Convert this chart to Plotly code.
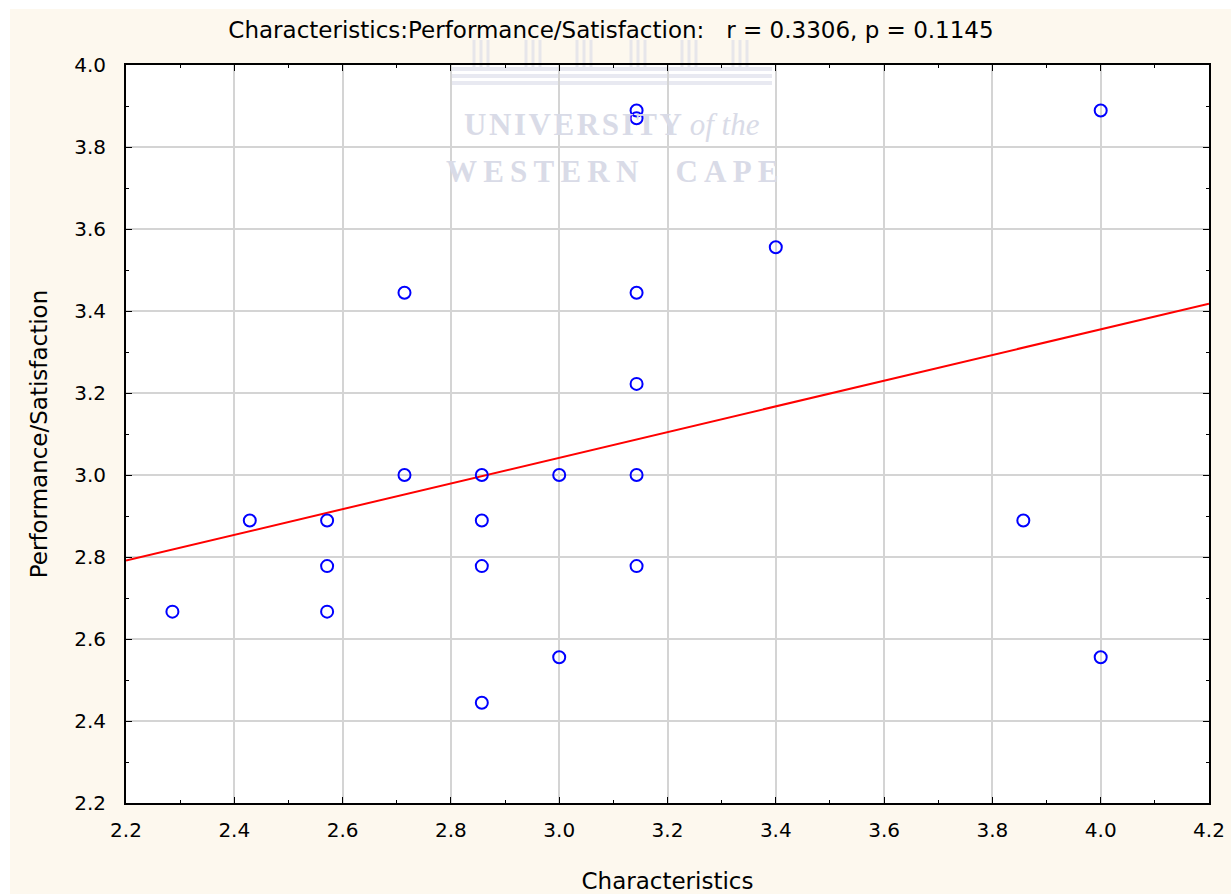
import numpy as np
import plotly.graph_objects as go

# Data
characteristics = [2.2857, 2.4286, 2.5714, 2.5714, 2.5714, 2.7143, 2.7143,
                   2.8571, 2.8571, 2.8571, 2.8571, 3.0, 3.0,
                   3.1429, 3.1429, 3.1429, 3.1429, 3.1429, 3.1429,
                   3.4, 3.8571, 4.0, 4.0]
performance = [2.6667, 2.8889, 2.8889, 2.7778, 2.6667, 3.4444, 3.0,
               3.0, 2.8889, 2.7778, 2.4444, 3.0, 2.5556,
               3.8889, 3.8700, 3.4444, 3.2222, 3.0, 2.7778,
               3.5556, 2.8889, 3.8889, 2.5556]

x_range = [2.2, 4.2]
y_range = [2.2, 4.0]
title_text = "Characteristics:Performance/Satisfaction:   r = 0.3306, p = 0.1145"

slope, intercept = np.polyfit(characteristics, performance, 1)
fit_x = np.array(x_range)
fit_y = intercept + slope * fit_x

W, H = 1231, 894
L, R, T, B = 126, 1209, 65, 803   # plot area in page pixels
cream = "#fdf8ee"
wm = "#d9dbe7"
FONT = "DejaVu Sans, Liberation Sans, Arial, sans-serif"
SERIF = "Liberation Serif, DejaVu Serif, serif"

def px(x):
    return (x - L) / (R - L)

def py(y):
    return (B - y) / (B - T)

fig = go.Figure()
fig.add_trace(go.Scatter(x=fit_x, y=fit_y, mode="lines",
                         line=dict(color="#ff0000", width=2), showlegend=False))
fig.add_trace(go.Scatter(x=characteristics, y=performance, mode="markers",
                         marker=dict(symbol="circle-open", size=12, color="#0000ff",
                                     line=dict(color="#0000ff", width=2)),
                         showlegend=False))

shapes = []
# white strips on left/top of the page
shapes.append(dict(type="rect", xref="paper", yref="paper", x0=px(0), x1=px(10), y0=py(H), y1=py(0),
                   fillcolor="white", line=dict(width=0), layer="below"))
shapes.append(dict(type="rect", xref="paper", yref="paper", x0=px(0), x1=px(W), y0=py(9), y1=py(0),
                   fillcolor="white", line=dict(width=0), layer="below"))
# watermark temple base
for (y0, y1) in [(67, 71), (74, 78), (81, 85)]:
    shapes.append(dict(type="rect", xref="paper", yref="paper", x0=px(452), x1=px(772),
                       y0=py(y1), y1=py(y0), fillcolor=wm, line=dict(width=0), layer="below", opacity=0.6))
for cx in [481, 533, 584, 638, 689, 740]:
    for dx in [-7, 0, 7]:
        shapes.append(dict(type="rect", xref="paper", yref="paper", x0=px(cx + dx - 1.5), x1=px(cx + dx + 1.5),
                           y0=py(67), y1=py(40), fillcolor=wm, line=dict(width=0), layer="below", opacity=0.6))

hs = "\u200a"
annotations = [
    dict(text="<b>" + hs.join("UNIVERSITY") + "</b> <i>of the</i>", xref="paper", yref="paper",
         x=px(612), y=py(124), showarrow=False,
         font=dict(family=SERIF, size=31, color=wm), xanchor="center", yanchor="middle"),
    dict(text="<b>" + "\u2009".join("WESTERN") + "\u2003\u2009" + "\u2009".join("CAPE") + "</b>",
         xref="paper", yref="paper", x=px(612), y=py(171), showarrow=False,
         font=dict(family=SERIF, size=31, color=wm), xanchor="center", yanchor="middle"),
]

axis_common = dict(showline=True, linecolor="black", linewidth=2, mirror="allticks",
                   ticks="inside", ticklen=6, tickwidth=1, tickcolor="black",
                   showgrid=True, gridcolor="#d4d4d4", gridwidth=2, zeroline=False,
                   automargin=False,
                   tickfont=dict(family=FONT, size=20, color="black"),
                   minor=dict(ticks="inside", ticklen=3, tickcolor="black", dtick=0.1, showgrid=False))

fig.update_layout(
    width=W, height=H,
    margin=dict(l=L, r=W - R, t=T, b=H - B, autoexpand=False),
    paper_bgcolor=cream, plot_bgcolor="white",
    title=dict(text=title_text, x=611 / W, xanchor="center", y=1 - 30 / H, yanchor="middle",
               font=dict(family=FONT, size=23, color="black")),
    xaxis=dict(range=x_range, dtick=0.2, tick0=2.2, tickformat=".1f",
               title=dict(text="Characteristics", standoff=33,
                          font=dict(family=FONT, size=23, color="black")),
               ticklabelstandoff=8, **axis_common),
    yaxis=dict(range=y_range, dtick=0.2, tick0=2.2, tickformat=".1f",
               title=dict(text="Performance/Satisfaction", standoff=20,
                          font=dict(family=FONT, size=23, color="black")),
               ticklabelstandoff=14, **axis_common),
    shapes=shapes, annotations=annotations,
)

fig.write_html("out.html", config={"displayModeBar": False},
               post_script="document.body.style.margin='0';document.body.style.overflow='hidden';")
